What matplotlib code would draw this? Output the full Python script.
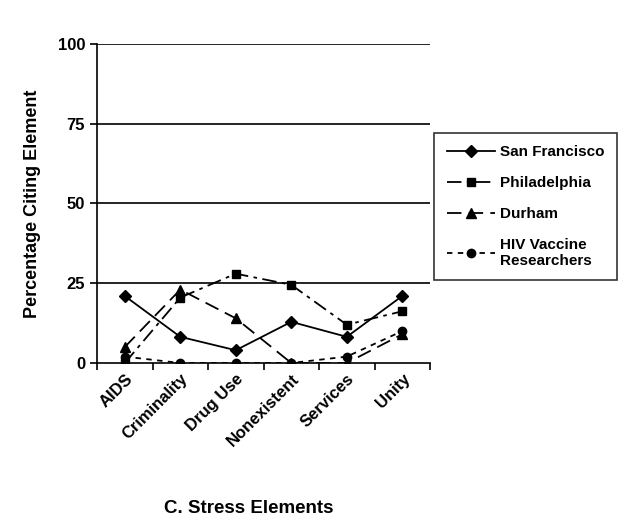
import matplotlib
matplotlib.use("Agg")
import matplotlib.pyplot as plt
import numpy as np

plt.rcParams['font.family'] = ['Liberation Sans', 'DejaVu Sans']
plt.rcParams['font.weight'] = 'bold'

categories = ["AIDS", "Criminality", "Drug Use", "Nonexistent", "Services", "Unity"]
san_francisco = [21, 8.2, 4, 12.9, 8.2, 21]
philadelphia = [0, 20.5, 28, 24.5, 12, 16.2]
durham = [5, 23, 14, 0, 0, 9]
hiv_researchers = [2, 0, 0, 0, 2, 10]

fig = plt.figure(figsize=(6.4, 5.3), dpi=100)
ax = fig.add_axes([0.1516, 0.3151, 0.5203, 0.602])

x = np.arange(len(categories))
ax.plot(x, san_francisco, color='black', lw=1.3, marker='D', ms=6, label='San Francisco')
ax.plot(x, philadelphia, color='black', lw=1.3, ls=(0, (8, 3, 2, 3)), marker='s', ms=6, label='Philadelphia')
ax.plot(x, durham, color='black', lw=1.3, ls=(0, (8, 4)), marker='^', ms=7, label='Durham')
ax.plot(x, hiv_researchers, color='black', lw=1.3, ls=(0, (3, 3)), marker='o', ms=6,
        label='HIV Vaccine\nResearchers')

ax.set_xlim(-0.5, len(categories) - 0.5)
ax.set_ylim(0, 100)
ax.set_yticks([0, 25, 50, 75, 100])
for yv in [25, 50, 75, 100]:
    ax.axhline(yv, color='black', lw=1.2, zorder=0)

ax.set_xticks(np.arange(-0.5, len(categories)), minor=False)
ax.set_xticklabels([])
ax.set_xticks(x, minor=True)
ax.set_xticklabels(categories, minor=True, rotation=45, ha='right', rotation_mode='anchor',
                   fontsize=12, fontweight='bold')
ax.tick_params(axis='x', which='minor', length=0, pad=6)
ax.tick_params(axis='x', which='major', length=5, width=1.2, direction='out')
ax.tick_params(axis='y', length=5, width=1.2, direction='out', labelsize=12)

for s in ['top', 'right']:
    ax.spines[s].set_visible(False)
for s in ['left', 'bottom']:
    ax.spines[s].set_linewidth(1.2)

ax.set_ylabel('Percentage Citing Element', fontsize=13, fontweight='bold', labelpad=12)
fig.text(0.388, 0.032, 'C. Stress Elements', ha='center', fontsize=13.5, fontweight='bold')

leg = ax.legend(loc='center left', bbox_to_anchor=(0.99, 0.49), frameon=True, fancybox=False,
                edgecolor='black', fontsize=11, handlelength=3.2, labelspacing=1.1,
                borderpad=0.8, handletextpad=0.3)
leg.get_frame().set_linewidth(1.2)
for t in leg.get_texts():
    t.set_fontweight('bold')

fig.savefig('out.png', dpi=100)
